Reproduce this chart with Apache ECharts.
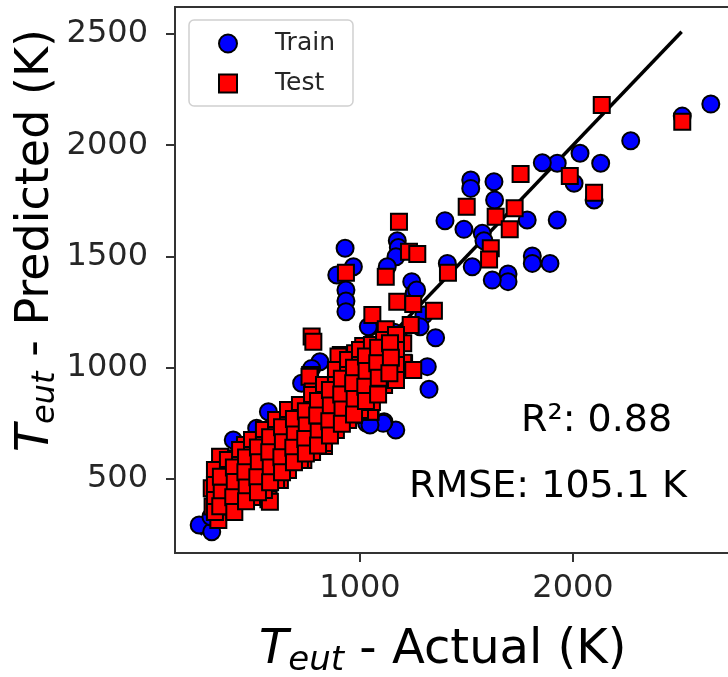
<!DOCTYPE html>
<html>
<head>
<meta charset="utf-8">
<script src="https://cdn.jsdelivr.net/npm/echarts@6/dist/echarts.min.js"></script>
<style>
  html, body { margin: 0; padding: 0; overflow: hidden; background: #fff; }
  #chart { width: 740px; height: 677px; }
</style>
</head>
<body>
<div id="chart"></div>
<script>
// actual vs predicted eutectic temperature (K)
var trainData = [
  [2647, 2185], [2513, 2131], [2271, 2020], [2130, 1919], [2033, 1964], [2005, 1829],
  [1926, 1919], [1856, 1921], [2099, 1754], [1629, 1836], [1632, 1754], [1520, 1844],
  [1520, 1806], [1785, 1664], [1926, 1664], [1399, 1661], [1488, 1622], [1574, 1604],
  [1582, 1571], [1809, 1502], [1892, 1469], [1809, 1469], [1527, 1454], [1410, 1469],
  [1695, 1421], [1695, 1387], [1621, 1394], [1175, 1571], [1180, 1540], [1169, 1499],
  [1128, 1454], [1243, 1387], [1254, 1334], [1266, 1349], [930, 1537], [891, 1417],
  [969, 1454], [934, 1349], [934, 1300], [934, 1252], [1300, 1237], [1355, 1135],
  [1047, 1184], [1039, 1184], [1282, 1184], [1316, 1005], [1324, 903], [1168, 720],
  [1113, 757], [1031, 750], [1109, 750], [812, 1027], [773, 997], [726, 930],
  [570, 802], [515, 728], [405, 675], [327, 548], [245, 293], [304, 263], [1047, 743],
  // mostly hidden under the test squares
  [300, 330], [340, 360], [380, 400], [420, 430], [460, 470], [500, 500], [540, 530],
  [580, 560], [620, 580], [660, 610], [700, 640], [740, 680], [780, 720], [820, 760],
  [860, 800], [900, 840], [940, 880], [980, 920], [1020, 960], [1060, 1000], [1100, 1050],
  [1140, 1100], [1180, 1140], [360, 440], [440, 500], [520, 560], [600, 620], [680, 680],
  [760, 760], [840, 840], [920, 920], [1000, 1000], [1080, 1080], [1160, 1160]
];

var testData = [
  [2135, 2181], [2513, 2106], [1754, 1871], [1985, 1862], [2099, 1787], [1501, 1724],
  [1726, 1717], [1637, 1679], [1703, 1622], [1183, 1656], [1230, 1521], [1269, 1511],
  [1121, 1409], [1413, 1427], [1614, 1537], [1606, 1487], [1175, 1297], [1250, 1286],
  [1347, 1256], [1058, 1237], [1121, 1173], [1238, 1192], [1207, 1020], [1050, 802],
  [934, 1427], [773, 1140], [1015, 1098], [910, 1057], [977, 1065], [1141, 1110],
  [1203, 1110], [1015, 1027], [1070, 1027], [1203, 1023], [766, 967], [945, 990],
  [781, 1117], [899, 1050], [1008, 1035], [763, 960], [778, 893], [906, 922],
  [930, 855], [1008, 900], [797, 810], [906, 765], [687, 788], [684, 705],
  [828, 728], [831, 648], [656, 578], [593, 675], [554, 608], [523, 675],
  [460, 653], [405, 593], [343, 600], [398, 540], [452, 540], [562, 540],
  [445, 473], [570, 454], [570, 409], [374, 432], [382, 383], [308, 376],
  [398, 361], [335, 316], [304, 458], [734, 585], [671, 645], [766, 675],
  [484, 608], [515, 496], [366, 510], [624, 496], [1156, 1027], [1250, 990],
  [984, 900], [1078, 907], [1047, 802], [969, 788], [844, 720], [921, 855],
  [671, 795], [820, 720], [614, 675], [546, 600], [671, 585], [413, 585],
  [554, 533], [640, 540], [577, 398], [405, 375],
  // the packed band below 1200 K
  [319, 540], [319, 473], [319, 406], [319, 352],
  [380, 585], [380, 518], [380, 451], [380, 383],
  [437, 630], [437, 563], [437, 495], [437, 428],
  [493, 675], [493, 608], [493, 540], [493, 473], [493, 419],
  [549, 720], [549, 653], [549, 585], [549, 518], [549, 451],
  [606, 765], [606, 698], [606, 630], [606, 563], [606, 495],
  [662, 810], [662, 743], [662, 675], [662, 608], [662, 540],
  [718, 833], [718, 774], [718, 711], [718, 648], [718, 585],
  [775, 877], [775, 810], [775, 743], [775, 675], [775, 621],
  [831, 922], [831, 855], [831, 788], [831, 720], [831, 662],
  [887, 990], [887, 922], [887, 855], [887, 788], [887, 720],
  [944, 1035], [944, 967], [944, 900], [944, 833], [944, 765],
  [1000, 1080], [1000, 1012], [1000, 945], [1000, 877], [1000, 810],
  [1056, 1102], [1056, 1035], [1056, 967], [1056, 900], [1056, 846],
  [1113, 1125], [1113, 1057], [1113, 990], [1113, 922],
  [1169, 1147], [1169, 1080], [1169, 1012], [1169, 945],
  [347, 510], [351, 438], [344, 378],
  [408, 552], [412, 487], [405, 418], [410, 352],
  [465, 597], [462, 530], [468, 462], [465, 400],
  [521, 642], [525, 575], [518, 508], [521, 440],
  [578, 688], [574, 620], [581, 552], [578, 485],
  [634, 732], [638, 665], [631, 598], [634, 530],
  [690, 770], [694, 700], [687, 640], [690, 575],
  [746, 805], [750, 740], [743, 680], [746, 615],
  [803, 850], [799, 785], [806, 712], [803, 650],
  [859, 900], [863, 830], [856, 760], [859, 695],
  [915, 950], [912, 880], [918, 812], [915, 748],
  [972, 1000], [968, 930], [975, 860], [972, 790],
  [1028, 1050], [1031, 985], [1025, 915], [1028, 850],
  [1085, 1090], [1081, 1020], [1088, 955], [1085, 880],
  [1141, 1110], [1145, 1045], [1138, 975]
];

var idealLine = [[250, 250], [2510, 2510]];
var xTicks = [1000, 2000];
var yTicks = [500, 1000, 1500, 2000, 2500];
var r2Text = 'R\u00b2: 0.88';
var rmseText = 'RMSE: 105.1 K';

var FONT = 'DejaVu Sans';

function titleGroup(x, y, rot, size, rest) {
  let sub = Math.round(size * 0.7);
  return {
    type: 'group',
    x: x,
    y: y,
    rotation: rot,
    children: [
      { type: 'text', x: 0, y: 0, style: { text: 'T', fontFamily: FONT, fontStyle: 'italic', fontSize: size, fill: '#000', verticalAlign: 'middle' } },
      { type: 'text', x: size * 0.611, y: size * 0.22, style: { text: 'eut', fontFamily: FONT, fontStyle: 'italic', fontSize: sub, fill: '#000', verticalAlign: 'middle' } },
      { type: 'text', x: size * 0.611 + sub * 1.64, y: 0, style: { text: rest, fontFamily: FONT, fontSize: size, fill: '#000', verticalAlign: 'middle' } }
    ]
  };
}

function plain(v) {
  return String(v);
}

var myChart = echarts.init(document.getElementById('chart'), null, { renderer: 'canvas' });

var option = {
  animation: false,
  grid: {
    left: 175,
    top: 7,
    right: 5,
    bottom: 124,
    show: true,
    borderColor: '#333',
    borderWidth: 2,
    backgroundColor: 'transparent'
  },
  legend: {
    orient: 'vertical',
    left: 189,
    top: 20,
    data: [
      { name: 'Train', icon: 'circle' },
      { name: 'Test', icon: 'rect' }
    ],
    itemWidth: 18,
    itemHeight: 18,
    itemGap: 15,
    padding: [11, 18, 10, 29],
    backgroundColor: 'rgba(255,255,255,0.8)',
    borderColor: '#d0d0d0',
    borderWidth: 1.5,
    borderRadius: 5,
    selectedMode: false,
    z: 10,
    textStyle: {
      fontFamily: FONT,
      fontSize: 25,
      color: '#262626',
      padding: [0, 0, 0, 33]
    }
  },
  xAxis: {
    type: 'value',
    min: 131.5,
    max: 2760.6,
    axisLine: { show: false },
    splitLine: { show: false },
    axisTick: { show: true, customValues: xTicks, length: 9, lineStyle: { color: '#333', width: 2 } },
    axisLabel: { customValues: xTicks, formatter: plain, fontFamily: FONT, fontSize: 32, color: '#262626', margin: 20 }
  },
  yAxis: {
    type: 'value',
    min: 167.4,
    max: 2621.3,
    axisLine: { show: false },
    splitLine: { show: false },
    axisTick: { show: true, customValues: yTicks, length: 9, lineStyle: { color: '#333', width: 2 } },
    axisLabel: { customValues: yTicks, formatter: plain, fontFamily: FONT, fontSize: 32, color: '#262626', margin: 27 }
  },
  series: [
    {
      name: 'ideal',
      type: 'line',
      data: idealLine,
      symbol: 'none',
      silent: true,
      z: 1,
      lineStyle: { color: '#000', width: 3.5 }
    },
    {
      name: 'Train',
      type: 'scatter',
      data: trainData,
      symbol: 'circle',
      symbolSize: 17,
      z: 3,
      itemStyle: { color: '#0000ff', borderColor: '#000', borderWidth: 2, opacity: 1 },
      emphasis: { disabled: true }
    },
    {
      name: 'Test',
      type: 'scatter',
      data: testData,
      symbol: 'rect',
      symbolSize: 16,
      z: 4,
      itemStyle: { color: '#ff0000', borderColor: '#000', borderWidth: 2, opacity: 1 },
      emphasis: { disabled: true }
    }
  ],
  graphic: [
    { type: 'text', x: 521, y: 421, style: { text: r2Text, fontFamily: FONT, fontSize: 38, fill: '#000', verticalAlign: 'middle' } },
    { type: 'text', x: 409, y: 487, style: { text: rmseText, fontFamily: FONT, fontSize: 38, fill: '#000', verticalAlign: 'middle' } },
    titleGroup(259, 651, 0, 48, ' - Actual (K)'),
    titleGroup(36, 452, Math.PI / 2, 46, ' - Predicted (K)')
  ]
};

myChart.setOption(option);
</script>
</body>
</html>
